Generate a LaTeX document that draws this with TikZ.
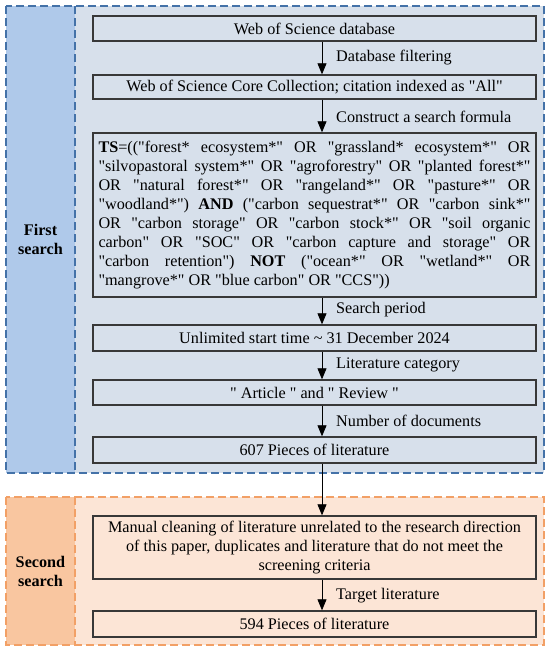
\documentclass[tikz,border=0pt]{standalone}
\usepackage{fontspec}
\setmainfont{Liberation Serif}[Ligatures=TeXOff]
\usetikzlibrary{arrows.meta,positioning}

\definecolor{panelblue}{HTML}{D7E0EB}
\definecolor{tabblue}{HTML}{AFC9EA}
\definecolor{edgeblue}{HTML}{4472A8}
\definecolor{panelorange}{HTML}{FCE5D6}
\definecolor{taborange}{HTML}{F9C6A0}
\definecolor{edgeorange}{HTML}{F2A066}
\definecolor{boxedge}{HTML}{383838}

\begin{document}
\begin{tikzpicture}[x=1pt,y=-1pt,
	font=\fontsize{16.2}{19}\selectfont,
	stage/.style={draw=boxedge, line width=1.4pt, minimum width=443pt, inner sep=0pt, align=center},
	flow/.style={-{Triangle[width=9pt,length=11pt]}, line width=0.8pt, draw=black},
	note/.style={anchor=west, inner sep=0pt},
	panel/.style={dash pattern=on 8pt off 4pt, line width=1.3pt},
	tab/.style={font=\fontsize{16.2}{19}\selectfont\bfseries, align=center}]
	\useasboundingbox (0,0) rectangle (550,653);
	
	% First search panel
	\fill[panelblue] (6,6) rectangle (544,473);
	\fill[tabblue] (6,6) rectangle (75,473);
	\draw[panel, edgeblue] (6,6) rectangle (544,473);
	\draw[panel, edgeblue] (75,6) -- (75,473);
	\node[tab] (first) at (40.5,239.5) {First\\search};
	
	% Second search panel
	\fill[panelorange] (6,497) rectangle (544,645);
	\fill[taborange] (6,497) rectangle (75,645);
	\draw[panel, edgeorange] (6,497) rectangle (544,645);
	\draw[panel, edgeorange] (75,497) -- (75,645);
	\node[tab] (second) at (40.5,571) {Second\\search};
	
	% Steps
	\node[stage, minimum height=25pt] (wos) at (314.5,28.5) {Web of Science database};
	\node[stage, minimum height=24pt] (core) at (314.5,87) {Web of Science Core Collection; citation indexed as "All"};
	\node[stage, minimum height=164pt, text width=432pt, align=justify, inner xsep=5.5pt] (ts) at (314.5,215) {%
		\tolerance=9999\emergencystretch=20pt
		\textbf{TS}=(("forest* ecosystem*" OR "grassland* ecosystem*" OR\linebreak
		"silvopastoral system*" OR "agroforestry" OR "planted forest*"\linebreak
		OR "natural forest*" OR "rangeland*" OR "pasture*" OR\linebreak
		"woodland*") \textbf{AND} ("carbon sequestrat*" OR "carbon sink*"\linebreak
		OR "carbon storage" OR "carbon stock*" OR "soil organic\linebreak
		carbon" OR "SOC" OR "carbon capture and storage" OR\linebreak
		"carbon retention") \textbf{NOT} ("ocean*" OR "wetland*" OR\linebreak
		"mangrove*" OR "blue carbon" OR "CCS"))};
	\node[stage, minimum height=26pt] (period) at (314.5,338) {Unlimited start time \textasciitilde{} 31 December 2024};
	\node[stage, minimum height=25pt] (kind) at (314.5,392.5) {" Article " and " Review "};
	\node[stage, minimum height=26pt] (found) at (314.5,450) {607 Pieces of literature};
	\node[stage, minimum height=63pt] (clean) at (314.5,547.5) {Manual cleaning of literature unrelated to the research direction\\of this paper, duplicates and literature that do not meet the\\screening criteria};
	\node[stage, minimum height=26pt] (final) at (314.5,624) {594 Pieces of literature};
	
	% Arrows
	\coordinate (axis) at (322,0);
	\draw[flow] (wos.south -| axis) -- (core.north -| axis);
	\draw[flow] (core.south -| axis) -- (ts.north -| axis);
	\draw[flow] (ts.south -| axis) -- (period.north -| axis);
	\draw[flow] (period.south -| axis) -- (kind.north -| axis);
	\draw[flow] (kind.south -| axis) -- (found.north -| axis);
	\draw[flow] (found.south -| axis) -- (clean.north -| axis);
	\draw[flow] (clean.south -| axis) -- (final.north -| axis);
	
	% Arrow labels
	\node[note] (lfilter) at (336,58) {Database filtering};
	\node[note] (lformula) at (336,117) {Construct a search formula};
	\node[note] (lperiod) at (336,310) {Search period};
	\node[note] (lkind) at (336,365) {Literature category};
	\node[note] (lcount) at (336,421) {Number of documents};
	\node[note] (ltarget) at (336,596) {Target literature};
\end{tikzpicture}
\end{document}
